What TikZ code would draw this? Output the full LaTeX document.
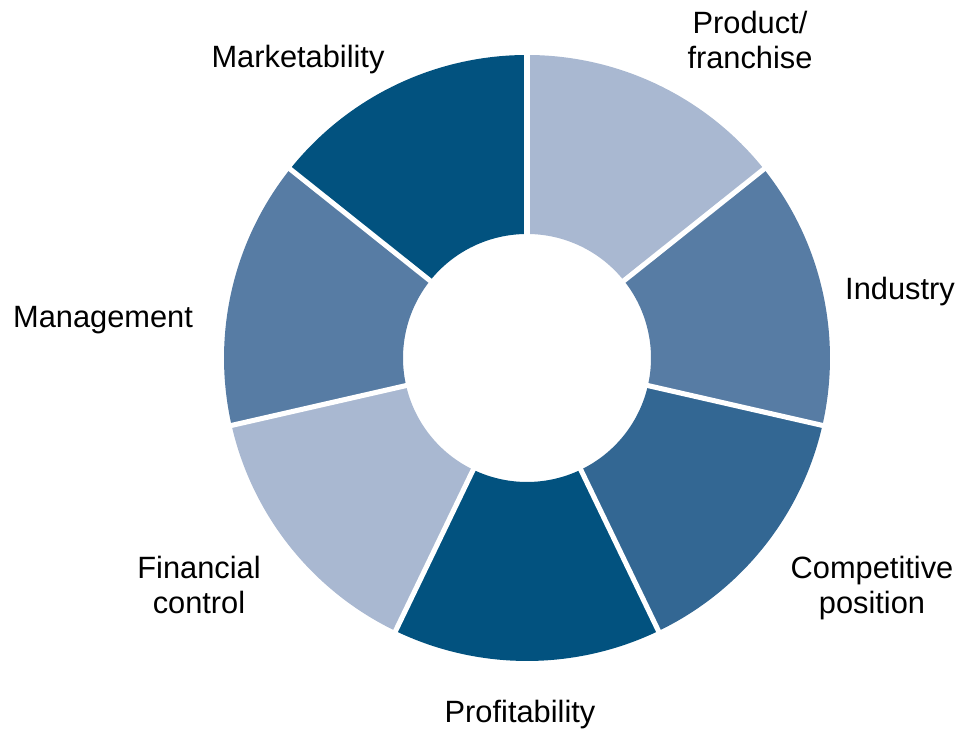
\documentclass[tikz,border=0pt]{standalone}
\usepackage{fontspec}
\setmainfont{Liberation Sans}
\definecolor{seglight}{HTML}{A9B8D1}
\definecolor{segmid}{HTML}{577CA4}
\definecolor{segdeep}{HTML}{336793}
\definecolor{segdark}{HTML}{02527F}
\begin{document}
\begin{tikzpicture}[x=0.75pt,y=0.75pt,
  lbl/.style={font=\fontsize{23.1}{26.3}\selectfont, align=center, inner sep=0pt, anchor=base},
  sep/.style={white, line width=3.8pt}]
\useasboundingbox (0,0) rectangle (961,730);
% donut of seven equal sectors, clockwise from the top
\begin{scope}[shift={(527,372)}]
  \foreach \i/\col in {0/seglight,1/segmid,2/segdeep,3/segdark,4/seglight,5/segmid,6/segdark} {
    \pgfmathsetmacro\a{90-\i*360/7}
    \pgfmathsetmacro\b{\a-360/7}
    \fill[\col] (\a:303) arc[start angle=\a, end angle=\b, radius=303]
      -- (\b:124) arc[start angle=\b, end angle=\a, radius=124] -- cycle;
  }
  \foreach \i in {0,...,6}
    \draw[sep] ({90-\i*360/7}:120) -- ({90-\i*360/7}:308);
\end{scope}
% labels (base anchor sits on the last line's baseline)
\node[lbl] (product) at (750,661) {Product/\\franchise};
\node[lbl] (industry) at (900,430) {Industry};
\node[lbl] (competitive) at (872,116) {Competitive\\position};
\node[lbl] (profit) at (520,7) {Profitability};
\node[lbl] (financial) at (199,116) {Financial\\control};
\node[lbl] (management) at (103,402) {Management};
\node[lbl] (marketability) at (298,662) {Marketability};
\end{tikzpicture}
\end{document}
